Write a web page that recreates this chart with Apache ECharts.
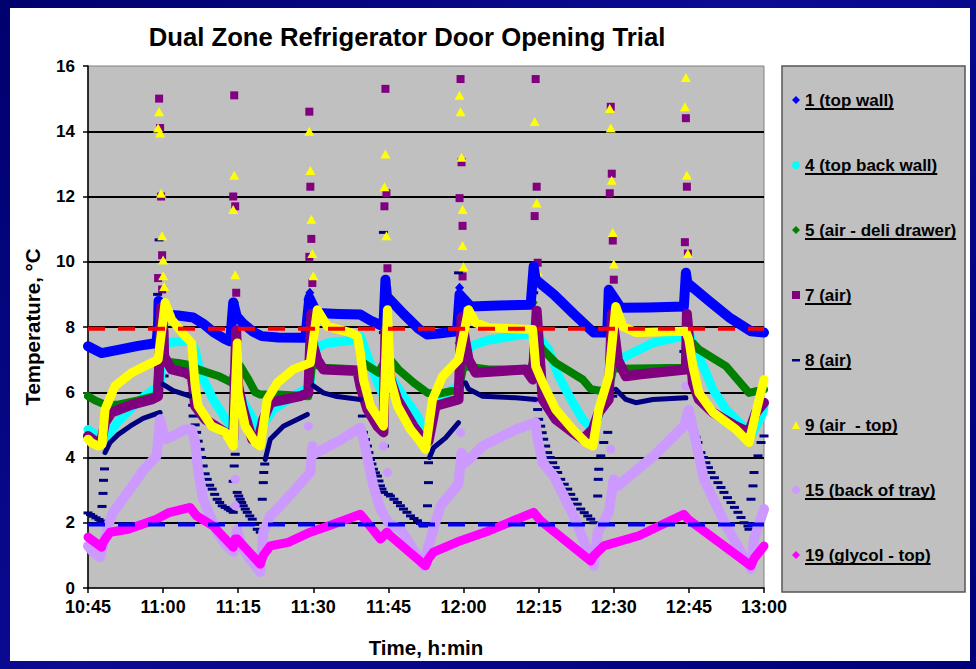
<!DOCTYPE html>
<html>
<head>
<meta charset="utf-8">
<title>Dual Zone Refrigerator Door Opening Trial</title>
<script src="https://cdn.jsdelivr.net/npm/echarts@6/dist/echarts.min.js"></script>
<style>
  html, body { margin: 0; padding: 0; width: 976px; height: 669px; overflow: hidden; }
  body { background: linear-gradient(135deg, #00006e 0%, #0b0b94 45%, #000078 100%); }
  #frame { position: absolute; left: 10px; top: 8px; width: 960px; height: 653px; background: #fff; }
  #chart { position: absolute; left: 0; top: 0; width: 976px; height: 669px; }
</style>
</head>
<body>
<div id="frame"></div>
<div id="chart"></div>
<script>
// minutes after 10:45 on x, temperature in degC on y
const xTickLabels = ['10:45', '11:00', '11:15', '11:30', '11:45', '12:00', '12:15', '12:30', '12:45', '13:00'];

const seriesNames = ['1 (top wall)', '4 (top back wall)', '5 (air - deli drawer)', '7 (air)',
  '8 (air)', '9 (air  - top)', '15 (back of tray)', '19 (glycol - top)'];

// 1 (top wall)
const s1Line = [[0,7.41],[2.7,7.2],[6,7.3],[10,7.42],[13.7,7.51],[14,8.1],[14.1,8.8],[14.6,8.4],[15.1,8.38],
  [18,8.35],[21,8.29],[23,8.1],[25,7.85],[27,7.66],[28.4,7.56],[29,8.75],[29.7,8.33],[31,8.1],[33,7.85],
  [34.7,7.72],[38,7.68],[43.4,7.67],[44.2,8.9],[45.7,8.43],[50,8.4],[54.4,8.38],[56.4,8.2],[59,8.02],
  [59.4,9.45],[59.7,8.94],[63,8.4],[66,7.95],[67.7,7.77],[70,7.8],[73.7,7.87],[74.2,9.0],[76.4,8.63],
  [82,8.66],[88.4,8.68],[89,9.86],[89.4,9.45],[93,9.0],[97,8.4],[101,7.83],[103.7,7.83],[104,9.14],
  [106.4,8.59],[112,8.6],[119,8.63],[119.4,9.66],[119.7,9.35],[124,8.8],[128,8.3],[132.4,7.87],[135,7.83]];
const s1Spikes = [[14,8.1],[14,8.5],[14.1,8.8],[29,8.45],[29,8.75],[44.2,8.2],[44.2,8.6],[44.3,9.05],
  [59.4,8.9],[59.4,9.1],[59.4,9.45],[74.2,8.6],[74.2,8.9],[74.2,9.2],[89,9.5],[89,9.86],[104,8.8],
  [104,9.14],[119.4,9.3],[119.4,9.66]];

// 4 (top back wall)
const s4Line = [[0,4.86],[1.4,4.71],[2.5,4.55],[3.5,4.6],[4.4,4.77],[6,5.1],[8.4,5.47],[11.4,5.9],
  [13.7,6.14],[14.4,6.19],[15,7.51],[18,7.55],[20.4,7.56],[21.4,7.3],[22.4,6.6],[25,5.78],[27.4,5.2],
  [28.7,4.96],[29,4.77],[29.7,6.09],[31.4,5.6],[33,5.17],[34.4,4.86],[35.4,5.1],[37,5.47],[41,5.88],
  [44.4,6.19],[44.8,7.31],[47.8,7.51],[53.8,7.61],[54.4,7.72],[55.6,7.2],[57.8,6.3],[59,5.88],[59.8,7.0],
  [60.4,6.49],[63,5.88],[65.8,5.27],[66.8,4.9],[67.4,4.77],[68,4.9],[69.4,5.78],[74,6.19],[75.6,7.3],
  [77,7.45],[80,7.6],[85,7.72],[89,7.8],[89.4,8.2],[89.8,7.72],[92,7.31],[94,6.49],[96.8,5.68],
  [98.8,5.17],[100.8,4.86],[102.8,5.58],[104,6.29],[104.8,6.8],[106,7.0],[112.8,7.51],[118.8,7.72],
  [120,7.83],[121.4,7.31],[124.8,6.09],[127.4,5.47],[130.8,4.96],[132.8,4.77],[134.8,5.38],[135,5.58]];

// 5 (air - deli drawer)
const s5Line = [[0,5.88],[1.4,5.75],[3.4,5.62],[6,5.62],[10,5.75],[13.7,5.9],[14.2,7.1],[15,6.95],
  [18,6.9],[20.8,6.82],[22,6.7],[26,6.5],[28.8,6.29],[29.6,6.95],[30.4,6.8],[32,6.4],[33.4,6.0],
  [34.4,5.93],[38,5.93],[44,5.88],[44.8,6.9],[47,6.75],[54.4,6.7],[55,6.9],[58,6.6],[59.8,7.1],[62,6.7],
  [65,6.3],[67.8,5.98],[70,5.95],[74,6.09],[75,6.8],[80,6.7],[88.4,6.7],[90,7.5],[90.8,7.31],[93.4,6.9],
  [98.8,6.39],[100.4,6.1],[102,6.05],[104,6.1],[105,6.8],[106,6.72],[119,6.75],[120.8,7.51],[122,7.31],
  [127.4,6.8],[132,5.98],[135,6.09]];
const s5Spikes = [[14,8.75],[14,8.3],[14,7.2],[14.1,6.8],[29.4,8.75],[29.4,8.47],[29.4,7.83],[29.6,6.95],
  [44.2,8.32],[44.3,7.9],[44.4,7.4],[59.4,8.62],[59.4,7.7],[59.8,7.1],[74,8.13],[74,7.51],[89,8.75],
  [89.8,8.0],[104,8.63],[104,7.83],[104.4,7.31],[119,8.53],[119.8,8.23]];

// 7 (air)
const s7Line = [[0,4.66],[1.4,4.5],[2.6,4.45],[3.4,5.07],[4.7,5.38],[8.4,5.6],[12.7,5.78],[14,5.88],
  [14.6,8.6],[15.1,7.83],[15.2,7.1],[16.7,6.7],[19.4,6.6],[20.7,6.49],[21,6.19],[21.4,5.58],[23.4,5.17],
  [27.4,4.77],[29,4.56],[29.6,7.9],[29.8,6.7],[30,6.19],[30.8,5.58],[32,4.96],[32.8,4.56],[34,4.5],
  [35,5.17],[36.4,5.68],[42.4,5.88],[44,5.98],[44.6,8.4],[45,7.41],[45.8,7.0],[47,6.7],[53.8,6.65],
  [54.4,6.19],[55.8,5.47],[57.8,4.96],[59,4.77],[59.4,7.9],[59.8,7.2],[60.4,6.39],[61.8,5.78],[65,4.96],
  [67.4,4.46],[68,4.5],[69.4,5.58],[74,5.78],[74.6,8.3],[75.4,7.51],[76,7.0],[77.4,6.6],[87.4,6.7],
  [88.8,6.39],[89.6,8.5],[90.8,5.78],[93.4,5.17],[96.8,4.77],[98.8,4.56],[100.8,4.86],[102,5.38],
  [104,5.78],[104.6,8.4],[105.4,7.51],[105.8,7.0],[107.4,6.49],[110.4,6.55],[119.4,6.7],[119.6,8.4],
  [120.8,6.29],[122,5.78],[124.8,5.38],[129.4,4.96],[132,4.77],[133.4,5.38],[135,5.68]];
const s7Spikes = [[14.2,15.0],[14.4,14.1],[14.6,12.0],[14.8,10.2],[14,9.5],[14.8,9.15],
  [29.2,15.1],[29,12.0],[29.4,11.7],[29.6,9.05],
  [44.2,14.6],[44.4,12.3],[44.6,10.7],[44.2,10.15],[44.8,9.35],
  [59.4,15.3],[59.6,12.1],[59.2,11.7],[59.8,9.8],[59.8,8.07],
  [74.4,15.6],[74.6,13.05],[74.2,11.95],[74.8,11.1],[74.8,9.55],
  [89.4,15.6],[89.6,12.3],[89.2,11.4],[89.8,9.97],
  [104.4,14.75],[104.6,12.7],[104.2,12.1],[104.8,10.65],[105,9.45],
  [119.4,14.4],[119.6,12.3],[119.2,10.6],[119.8,10.25]];

// 8 (air): steady stretches as a band, fast changes as separate dashes
const s8Segments = [
  [[3.4,4.15],[4.4,4.46],[6,4.7],[8.4,4.96],[11,5.2],[14.4,5.38]],
  [[15,6.24],[17,6.05],[18.4,5.98],[20.4,5.88]],
  [[35.4,3.94],[36.4,4.56],[39,4.96],[43.8,5.32]],
  [[45,6.2],[47,5.98],[49.4,5.88],[54.4,5.78]],
  [[68.2,4.0],[69,4.3],[71.4,4.6],[74,5.07]],
  [[75.4,6.29],[76,6.1],[78.8,5.88],[85.4,5.83],[89.4,5.78]],
  [[105.4,6.09],[107.4,5.78],[109.4,5.68],[112.8,5.78],[119.4,5.83]]
];
const s8Dashes = [[0,2.3],[0.5,2.25],[1,2.2],[1.6,2.15],[2.2,2.1],[2.6,2.05],[2.8,2.5],[3.0,2.9],[3.1,3.3],[3.3,3.65],
  [14.2,10.67],[13.9,9.0],[14.2,8.3],[14.6,7.67],[14.9,7.2],[15.2,6.5],
  [20.9,5.6],[21,5.27],[21.4,5.0],[21.7,4.77],[22,4.5],[22.4,4.25],[22.7,4.0],[23,3.74],[23.4,3.5],[23.8,3.33],
  [24.3,3.15],[24.8,3.03],[25.3,2.87],[25.8,2.72],[26.3,2.62],[26.8,2.52],[27.4,2.47],[28,2.42],[28.5,2.37],[29,2.32],
  [29.4,4.1],[29.2,3.74],[29,3.27],
  [29.8,2.93],[30.1,2.82],[30.4,2.72],[30.7,2.62],[31,2.52],[31.4,2.42],[31.8,2.32],[32.3,2.21],[32.8,2.11],
  [33.3,1.95],[33.8,1.8],[34.4,1.71],[34.8,2.72],[35,3.23],[35.1,3.54],[35.3,3.8],
  [44,8.84],[44.4,8.23],[44.8,7.52],[45,6.79],
  [54.8,5.27],[55,4.77],[55.4,4.55],[55.8,4.35],[56.1,4.15],[56.4,3.94],[56.7,3.8],[57,3.64],[57.4,3.53],
  [57.8,3.43],[58.1,3.28],[58.4,3.13],[58.7,3.03],[59,2.93],
  [59,10.9],[59.4,9.14],[59.4,8.53],[59,7.83],[59.2,4.35],
  [60,2.87],[60.4,2.82],[61.1,2.72],[61.8,2.62],[62.4,2.52],[63,2.42],[63.7,2.32],[64.4,2.21],[65.1,2.13],
  [65.8,2.06],[66.4,1.98],[67,1.9],[67.8,2.52],[68,3.23],[68,3.84],
  [74,9.66],[74.4,8.32],[74.8,7.0],
  [89,9.05],[89.4,7.5],[89.6,6.5],
  [89.8,5.47],[90,5.17],[90.4,4.96],[90.7,4.76],[91,4.56],[91.4,4.35],[91.8,4.15],[92.3,4.0],[92.8,3.84],
  [93.3,3.69],[93.8,3.54],[94.4,3.33],[95.1,3.18],[95.8,3.03],[96.4,2.87],[97,2.72],[97.7,2.57],[98.4,2.42],
  [99.1,2.31],[99.8,2.21],[100.4,2.11],[101,2.0],
  [101.8,2.82],[101.9,3.33],[102,3.64],[102.4,4.05],[103,4.46],[103.8,4.77],
  [104.4,7.1],[104.8,5.88],
  [119.4,7.2],[119,7.25],
  [120.4,5.17],[120.7,4.97],[121,4.77],[121.4,4.62],[121.8,4.46],[122.4,4.15],[122.9,4.0],[123.4,3.84],
  [123.9,3.69],[124.4,3.54],[125.1,3.38],[125.8,3.23],[126.4,3.08],[127,2.93],[127.7,2.77],[128.4,2.62],
  [129.1,2.47],[129.8,2.32],[130.4,2.16],[131,2.0],[131.8,1.9],[132,1.8],
  [132.4,2.72],[132.8,3.13],[133,3.54],[133.8,4.05],[134.4,4.46],[135,4.66]];

// 9 (air - top)
const s9Line = [[0,4.56],[0.7,4.45],[2,4.35],[2.8,4.4],[3.4,5.47],[5.4,6.19],[8.7,6.6],[12.7,6.9],[14,7.0],
  [15.4,8.75],[16.7,8.23],[19.4,7.72],[20.7,7.51],[21.4,6.19],[22,5.58],[24.7,4.96],[27.4,4.77],[29,4.35],
  [29.8,7.51],[30,5.98],[31.4,4.96],[33.4,4.46],[34.4,4.35],[35.8,5.78],[37.8,6.29],[41,6.7],[44.4,6.9],
  [45.8,8.53],[47.8,8.02],[52.4,7.83],[53.8,7.72],[54.4,7.2],[55,6.39],[56.4,5.58],[59,4.96],[59.8,8.53],
  [60.4,6.39],[61.8,5.58],[64.4,4.86],[66,4.56],[67.4,4.25],[68.8,5.78],[70.8,6.49],[74,7.0],[76,8.53],
  [77.4,8.13],[80,7.98],[88.8,7.92],[89.4,6.8],[90.8,6.29],[93.4,5.47],[96.8,4.86],[99.4,4.46],[100.8,4.35],
  [102,5.47],[104,6.49],[105.4,8.63],[106.8,8.02],[109.4,7.83],[119.4,7.87],[120,7.61],[120.8,6.8],
  [122,5.98],[124.8,5.38],[129.4,4.86],[132,4.46],[133.4,5.38],[135,6.39]];
const s9Spikes = [[14.2,14.6],[14,14.1],[14.4,13.95],[14.6,12.1],[14.8,10.8],[15,10.05],[15,9.57],[15.2,9.24],
  [29.2,12.65],[29,11.6],[29.4,9.6],
  [44.2,14.0],[44.4,12.8],[44.6,11.3],[44.8,10.25],[45,9.57],
  [59.4,13.3],[59.2,12.3],[59.6,10.8],[59.8,9.4],
  [74.2,15.1],[74.4,14.6],[74.6,13.2],[74.8,11.6],[74.8,10.5],[75,9.85],
  [89.2,14.3],[89.6,11.8],[89.8,9.7],
  [104.2,14.7],[104.4,14.1],[104.6,12.5],[104.8,10.9],[105,9.93],
  [119.4,15.65],[119.2,14.75],[119.6,12.65],[119.8,10.25]];

// 15 (back of tray)
const s15Line = [[0,1.29],[1,1.1],[2.4,0.94],[3,1.3],[4,1.9],[5,2.32],[8.4,3.03],[11,3.6],[13.7,4.05],
  [14.4,5.17],[15.4,4.56],[17,4.66],[19.4,4.86],[20.7,4.86],[21.4,4.46],[22,3.6],[23,2.72],[25.8,1.71],
  [27.4,1.35],[29,1.1],[29.8,1.8],[30.4,1.4],[31.8,0.99],[34.4,0.49],[35,1.71],[36.4,2.21],[38.4,2.52],
  [44.4,3.54],[44.8,4.35],[45,4.1],[50,4.5],[54.4,4.92],[55,4.56],[57,3.13],[58.4,2.42],[60,2.0],
  [62.4,1.8],[67,0.68],[68,1.29],[70.4,2.52],[73,3.0],[74,3.2],[74.6,4.15],[75.4,3.84],[78.8,4.35],
  [85.4,4.86],[89.4,5.07],[89.8,4.56],[90.8,3.84],[93,3.43],[97,2.21],[101,0.68],[101.8,1.71],[104,2.32],
  [105,3.33],[105.8,3.13],[113,4.05],[119,4.96],[120,5.47],[123,3.33],[127.8,1.8],[132.4,0.58],[133,1.5],
  [135,2.42]];
const s15Spikes = [[14.4,6.14],[29.4,3.33],[29.4,2.52],[44,4.96],[59,4.35],[59.8,3.54],[74.4,4.77],
  [89.4,5.78],[104.4,4.25],[119.4,6.19]];

// 19 (glycol - top)
const s19Line = [[0,1.56],[2.7,1.25],[3,1.4],[4.4,1.71],[8,1.8],[13.7,2.11],[16,2.3],[20.4,2.47],[21.7,2.21],
  [25,1.9],[29,1.25],[29.4,1.5],[29.8,1.5],[34.4,0.73],[35,1.0],[36.4,1.29],[40,1.4],[44.4,1.71],[48,1.9],
  [54.4,2.26],[55.7,2.02],[58.4,1.5],[59.7,1.71],[60.4,1.6],[67.4,0.68],[68,0.9],[69,1.1],[74.4,1.45],
  [80,1.75],[89,2.32],[90.4,2.06],[100.4,0.83],[101,0.99],[103,1.29],[110,1.6],[119,2.26],[119.8,2.11],
  [132.4,0.68],[133,0.9],[135,1.29]];

// dashed reference limits
const upperLimit = [[0,7.95],[135,7.95]];
const lowerLimit = [[0,1.95],[135,1.95]];

const colors = ['#0000FF', '#00FFFF', '#008000', '#800080', '#000080', '#FFFF00', '#CC99FF', '#FF00FF'];
const icons = ['diamond', 'circle', 'diamond', 'rect',
  'path://M0,0L0.5,0L0.5,0.01L0,0.01ZM0,3L8,3L8,5.5L0,5.5ZM0,7.99L0.5,7.99L0.5,8L0,8Z',
  'triangle', 'circle', 'diamond'];

const FONT = '"Liberation Sans", Arial, sans-serif';

function band(i, data, width) {
  return {
    name: seriesNames[i], type: 'line', data: data, color: colors[i],
    symbol: 'none', silent: true, animation: false,
    lineStyle: { width: width, color: colors[i], cap: 'round', join: 'round' }
  };
}
function dots(i, data, symbol, size) {
  return {
    name: seriesNames[i], type: 'scatter', data: data, color: colors[i],
    symbol: symbol, symbolSize: size, silent: true, animation: false,
    itemStyle: { color: colors[i], opacity: 1 }
  };
}
function limit(data, color) {
  return {
    name: 'limit', type: 'line', data: data, symbol: 'none', silent: true, animation: false,
    lineStyle: { width: 4, color: color, type: [17, 13], cap: 'butt' }
  };
}

const series = [
  band(0, s1Line, 10), dots(0, s1Spikes, 'diamond', [9, 10]),
  band(1, s4Line, 9),
  band(2, s5Line, 8), dots(2, s5Spikes, 'diamond', [8, 10]),
  band(3, s7Line, 10), dots(3, s7Spikes, 'rect', 8)
];
s8Segments.forEach(seg => series.push(band(4, seg, 5)));
series.push(dots(4, s8Dashes, 'rect', [9, 3]));
series.push(band(5, s9Line, 9), dots(5, s9Spikes, 'triangle', [10, 9]));
series.push(band(6, s15Line, 10), dots(6, s15Spikes, 'circle', 9));
series.push(band(7, s19Line, 9));
series.push(limit(upperLimit, '#FF0000'), limit(lowerLimit, '#0000FF'));

// legend rows and their underlines
const legendTop = 90, legendStep = 65, textLeft = 805;
const measure = document.createElement('canvas').getContext('2d');
measure.font = 'bold 17px "Liberation Sans", Arial, sans-serif';
const underlines = seriesNames.map((n, i) => ({
  type: 'rect', z: 10,
  shape: { x: textLeft, y: legendTop + 10 + legendStep * i + 8, width: measure.measureText(n).width, height: 2 },
  style: { fill: '#000' }
}));

const chart = echarts.init(document.getElementById('chart'), null, { renderer: 'svg' });
chart.setOption({
  backgroundColor: 'transparent',
  animation: false,
  title: {
    text: 'Dual Zone Refrigerator Door Opening Trial',
    left: 407, top: 24, textAlign: 'center', padding: 0,
    textStyle: { fontFamily: FONT, fontSize: 25.7, fontWeight: 'bold', color: '#000' }
  },
  grid: {
    left: 88, top: 66, width: 676, height: 522,
    show: true, backgroundColor: '#C0C0C0', borderColor: '#808080', borderWidth: 1
  },
  xAxis: {
    type: 'value', min: 0, max: 135, interval: 15,
    name: 'Time, h:min', nameLocation: 'middle', nameGap: 49,
    nameTextStyle: { fontFamily: FONT, fontSize: 20.5, fontWeight: 'bold', color: '#000' },
    axisLine: { lineStyle: { color: '#000', width: 1.5 } },
    axisTick: { show: true, length: 5, lineStyle: { color: '#000', width: 1.5 } },
    axisLabel: {
      margin: 12, lineHeight: 14, color: '#000', fontFamily: FONT, fontSize: 18, fontWeight: 'bold',
      formatter: v => xTickLabels[Math.round(v / 15)]
    },
    splitLine: { show: false }
  },
  yAxis: {
    type: 'value', min: 0, max: 16, interval: 2,
    name: 'Temperature, °C', nameLocation: 'middle', nameGap: 45,
    nameTextStyle: { fontFamily: FONT, fontSize: 20.5, fontWeight: 'bold', color: '#000' },
    axisLine: { show: true, lineStyle: { color: '#000', width: 1.5 } },
    axisTick: { show: true, length: 5, lineStyle: { color: '#000', width: 1.5 } },
    axisLabel: { margin: 13, lineHeight: 13, color: '#000', fontFamily: FONT, fontSize: 17, fontWeight: 'bold' },
    splitLine: { show: true, showMinLine: false, showMaxLine: false, lineStyle: { color: '#000', width: 2 } }
  },
  legend: {
    orient: 'vertical', left: 792, top: legendTop, padding: 0,
    itemWidth: 8, itemHeight: 8, itemGap: legendStep - 20,
    selectedMode: false,
    textStyle: { fontFamily: FONT, fontSize: 17, fontWeight: 'bold', color: '#000', lineHeight: 20 },
    data: seriesNames.map((n, i) => ({ name: n, icon: icons[i], itemStyle: { color: colors[i] } }))
  },
  graphic: [
    { type: 'rect', z: -10, shape: { x: 782, y: 66, width: 183, height: 526 },
      style: { fill: '#C0C0C0', stroke: '#555', lineWidth: 1.5 } }
  ].concat(underlines),
  series: series
});
</script>
</body>
</html>
